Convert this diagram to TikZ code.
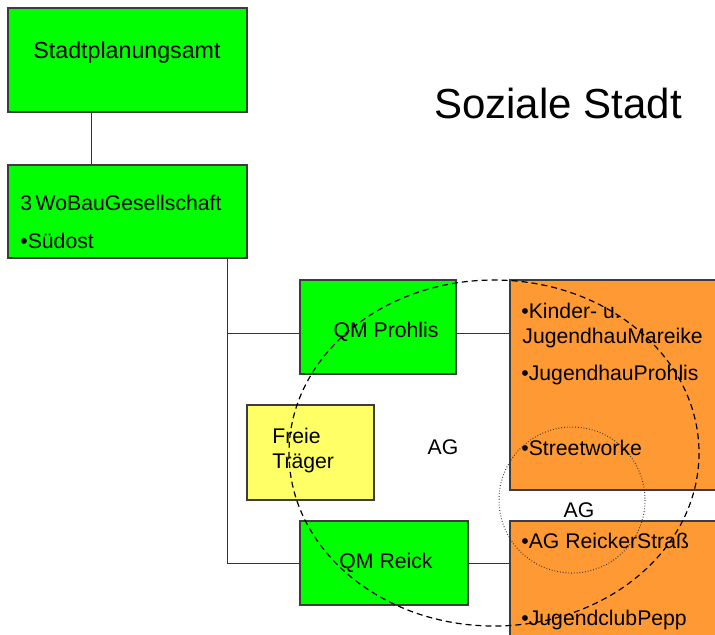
\documentclass[tikz,border=0pt]{standalone}
\usepackage{fontspec}
\setmainfont{Liberation Sans}
\usetikzlibrary{calc}
\definecolor{amtgreen}{RGB}{0,255,0}
\definecolor{partnerorange}{RGB}{255,153,51}
\definecolor{traegeryellow}{RGB}{255,255,102}
\definecolor{framegray}{RGB}{60,60,60}

\begin{document}
\begin{tikzpicture}[x=0.5pt,y=-0.5pt,
    orgbox/.style={draw=framegray, line width=0.6pt, inner sep=0pt},
    greenbox/.style={orgbox, fill=amtgreen},
    orangebox/.style={orgbox, fill=partnerorange},
    yellowbox/.style={orgbox, fill=traegeryellow},
    label/.style={font=\fontsize{10.6}{12.5}\selectfont, inner sep=0pt},
    link/.style={draw=black!80, line width=0.5pt}]
    \useasboundingbox (0,0) rectangle (715,634);
    \clip (0,0) rectangle (715,634);

    % Verwaltung
    \node[greenbox, minimum width=119.5pt, minimum height=52pt] (plan) at (127.5,60) {};
    \node[label, anchor=base, font=\fontsize{11.6}{13}\selectfont] (plantext) at (127,58) {Stadtplanungsamt};
    \node[greenbox, minimum width=119.5pt, minimum height=46.5pt] (wobau) at (127.5,211.5) {};
    \node[label, anchor=base west] (wobautext) at (20,210) {3\,WoBauGesellschaft};
    \node[label, anchor=base west] (suedost) at (20,248) {•Südost};

    % Titel
    \node[anchor=base, inner sep=0pt, font=\fontsize{21}{24}\selectfont] (title) at (558,118) {Soziale Stadt};

    % Quartiersmanagement
    \node[greenbox, minimum width=78pt, minimum height=47pt] (prohlis) at (378,327) {};
    \node[label] (prohlistext) at (386,332) {QM Prohlis};
    \node[greenbox, minimum width=84pt, minimum height=42pt] (reick) at (384,563) {};
    \node[label] (reicktext) at (386,563) {QM Reick};
    \node[yellowbox, minimum width=63.5pt, minimum height=47.5pt] (traeger) at (310.5,452.5) {};
    \node[label, anchor=west, align=left] (traegertext) at (272,450) {Freie\\Träger};

    % Partner
    \node[orangebox, minimum width=110pt, minimum height=105pt] (partnerA) at (620,385) {};
    \node[orangebox, minimum width=110pt, minimum height=60pt] (partnerB) at (620,581) {};
    \node[label, anchor=base west] (kinder) at (521,318) {•Kinder- u.};
    \node[label, anchor=base west] (mareike) at (522,343) {JugendhauMareike};
    \node[label, anchor=base west] (jhprohlis) at (521,380) {•JugendhauProhlis};
    \node[label, anchor=base west] (street) at (521,455) {•Streetworke};
    \node[label, anchor=base west] (agreick) at (521,548) {•AG ReickerStraß};
    \node[label, anchor=base west] (pepp) at (521,625) {•JugendclubPepp};

    % AG
    \node[label] (agbig) at (443,447) {AG};
    \node[label] (agsmall) at (579,510) {AG};

    % Verbindungen
    \coordinate (stem) at (227,333);
    \draw[link] ([xshift=-18.25pt]plan.south) -- ([xshift=-18.25pt]wobau.north);
    \draw[link] (wobau.south -| stem) |- (reick.west);
    \draw[link] (stem) -- (stem -| prohlis.west);
    \draw[link] (prohlis.east |- stem) -- (stem -| partnerA.west);
    \draw[link] (reick.east) -- (reick.east -| partnerB.west);

    % Arbeitsgemeinschaften
    \draw[black, line width=0.6pt, dash pattern=on 3pt off 2pt] (494,453) ellipse (205 and 173);
    \draw[black!80, line width=0.5pt, dash pattern=on 0.4pt off 1pt] (572,500) circle (73);
\end{tikzpicture}
\end{document}
